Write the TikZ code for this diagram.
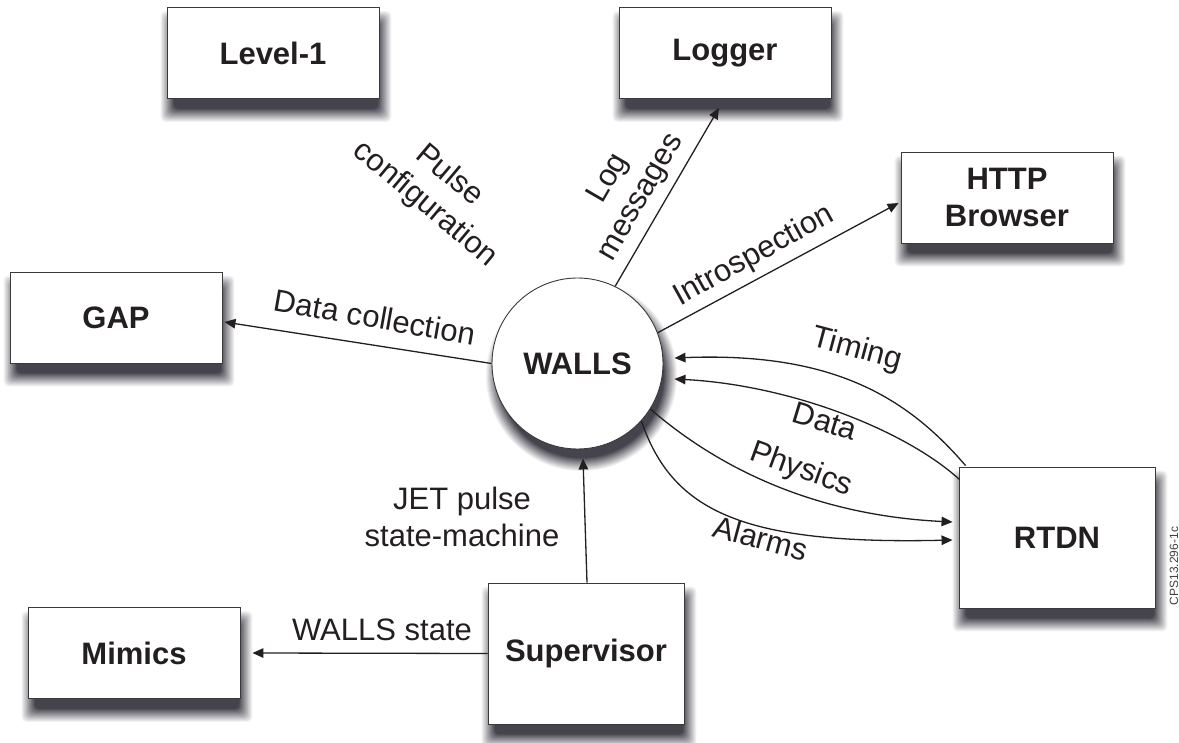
\documentclass[tikz,border=0pt]{standalone}
\usepackage{fontspec}
\setmainfont{Liberation Sans}
\usetikzlibrary{arrows.meta,calc,backgrounds}

\definecolor{ink}{HTML}{231F20}
\definecolor{shade}{HTML}{24232E}
\definecolor{frame}{HTML}{3A3A3A}

% soft drop shadow under a rectangular node: nested fills, outermost and
% palest first, each one darker and smaller, shifted right and down
\newcommand\boxshade[1]{%
  \foreach \e [evaluate=\e as \p using {min(85,85*(21-\e)/14)}] in {20,19,...,0}{%
    \fill[shade!\p!white, rounded corners=5pt]
      ($(#1.north west)+({14-\e},{24-\e})$) rectangle ($(#1.south east)+({\e-8},{\e+3})$);}}
% the same for a circular node
\newcommand\discshade[1]{%
  \foreach \e [evaluate=\e as \p using {min(85,85*(21-\e)/14)}] in {20,19,...,0}{%
    \fill[shade!\p!white] ($(#1.center)+(4,12)$) circle[radius={75.5+\e}];}}

\begin{document}
\begin{tikzpicture}[x=1pt,y=-1pt,
  lbl/.style={font=\fontsize{31pt}{37pt}\selectfont, text=ink, align=center, inner sep=0pt},
  unit/.style={draw=frame, line width=0.9pt, fill=white,
    font=\bfseries\fontsize{31pt}{37pt}\selectfont, text=ink, align=center,
    inner sep=0pt, minimum width=212pt, minimum height=91pt},
  bigunit/.style={unit, minimum width=196pt, minimum height=141pt},
  hub/.style={circle, draw=frame, line width=0.9pt, fill=white, minimum size=171pt,
    inner sep=0pt, font=\bfseries\fontsize{31pt}{37pt}\selectfont, text=ink},
  arr/.style={draw=ink, line width=1.3pt, -{Triangle[length=11pt,width=9.5pt]}}]
\useasboundingbox (0,0) rectangle (1179,743);

% units of the system
\node[unit] (L1) at (273,53) {Level-1};
\node[unit] (Lg) at (725,53) {Logger};
\node[unit] (H) at (1007,197.5) {HTTP\\Browser};
\node[unit] (G) at (116,317.5) {GAP};
\node[unit] (M) at (134,653) {Mimics};
\node[bigunit] (R) at (1057,537.5) {RTDN};
\node[bigunit] (S) at (586,653.5) {Supervisor};
\node[hub] (W) at (577.5,363.5) {WALLS};

\begin{pgfonlayer}{background}
  \fill[white] (0,0) rectangle (1179,743);
  \foreach \n in {L1,Lg,H,G,M,R,S}{\boxshade{\n}}
  \discshade{W}
\end{pgfonlayer}

% straight data flows
\draw[arr] (W.64.5) -- ($(Lg.south)+(-6,9)$);
\draw[arr] (W.21) -- ($(H.west)+(-2,5.5)$);
\draw[arr] (W.west) -- ($(G.east)+(2,4.5)$);
\draw[arr] ($(S.north)+(1,0)$) -- ($(W.south)+(5.5,9)$);
\draw[arr] (S.west) -- ($(M.east)+(12,0)$);

% curved flows between WALLS and RTDN
\draw[arr] ($(R.north west)+(7,-1)$) .. controls (905,395) and (830,352) .. ($(W.east)+(11,-5.5)$);
\draw[arr] ($(R.north west)+(1,13)$) .. controls (905,430) and (790,385) .. ($(W.east)+(11,15.5)$);
\draw[arr] (W.328) .. controls (715,465) and (810,515) .. ($(R.west)+(-6,-15.5)$);
\draw[arr] (W.318) .. controls (672,510) and (740,545) .. ($(R.west)+(-6,2.5)$);

% flow labels
\node[lbl, rotate=-40] (tPulse) at (437,190) {Pulse\\configuration};
\node[lbl, rotate=60] (tLog) at (625,188) {Log\\messages};
\node[lbl, rotate=29] (tIntro) at (754,256) {Introspection};
\node[lbl, rotate=-10] (tColl) at (375,317) {Data collection};
\node[lbl, rotate=-15] (tTime) at (857,350) {Timing};
\node[lbl, rotate=-17] (tData) at (825,421) {Data};
\node[lbl, rotate=-20] (tPhys) at (801,470) {Physics};
\node[lbl, rotate=-15] (tAlarm) at (761,538) {Alarms};
\node[lbl] (tJet) at (462,517) {JET pulse\\state-machine};
\node[lbl] (tState) at (382,630) {WALLS state};

% drawing reference
\node[font=\fontsize{12pt}{14pt}\selectfont, text=ink!85, rotate=90, inner sep=0pt] (tag) at (1174,566) {CPS13.296-1c};
\end{tikzpicture}
\end{document}
